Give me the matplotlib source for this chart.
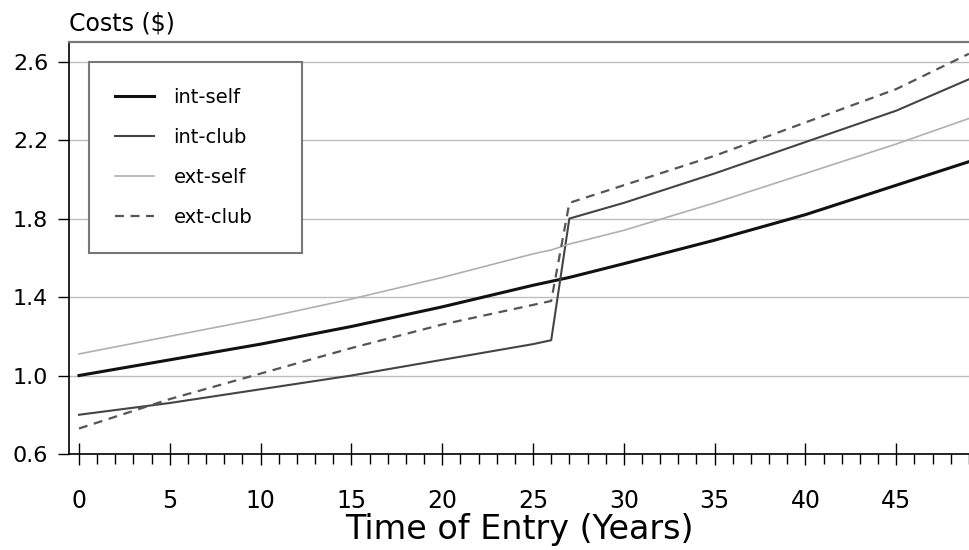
import matplotlib
matplotlib.use('Agg')
import matplotlib.pyplot as plt
from matplotlib.ticker import MultipleLocator

# values
years = [0, 5, 10, 15, 20, 25, 26, 27, 30, 35, 40, 45, 49]
int_self = [1.00, 1.08, 1.16, 1.25, 1.35, 1.46, 1.48, 1.50, 1.57, 1.69, 1.82, 1.97, 2.09]
int_club = [0.80, 0.86, 0.93, 1.00, 1.08, 1.16, 1.18, 1.80, 1.88, 2.03, 2.19, 2.35, 2.51]
ext_self = [1.11, 1.20, 1.29, 1.39, 1.50, 1.62, 1.64, 1.67, 1.74, 1.88, 2.03, 2.18, 2.31]
ext_club = [0.73, 0.88, 1.01, 1.14, 1.26, 1.36, 1.38, 1.88, 1.97, 2.12, 2.29, 2.46, 2.64]

y_ticks = [0.6, 1.0, 1.4, 1.8, 2.2, 2.6]
x_ticks = [0, 5, 10, 15, 20, 25, 30, 35, 40, 45]

plt.rcParams['font.family'] = ['DejaVu Sans']

fig = plt.figure(figsize=(9.7, 5.5), dpi=100)
ax = fig.add_axes([69 / 970, 1 - 454 / 550, 901 / 970, 412 / 550])

for yv in y_ticks[1:]:
    ax.axhline(yv, color='#bdbdbd', lw=1.0, zorder=1)

ax.plot(years, int_self, color='#111111', lw=2.2, label='int-self', zorder=3)
ax.plot(years, int_club, color='#444444', lw=1.5, label='int-club', zorder=3)
ax.plot(years, ext_self, color='#b0b0b0', lw=1.2, label='ext-self', zorder=3)
ax.plot(years, ext_club, color='#555555', lw=1.6, ls=(0, (4, 3)), label='ext-club', zorder=3)

ax.set_xlim(-0.55, 49.06)
ax.set_ylim(0.6, 2.70)
ax.set_yticks(y_ticks)
ax.set_yticklabels(['%.1f' % v for v in y_ticks])
ax.set_xticks(x_ticks)
ax.xaxis.set_minor_locator(MultipleLocator(1))

ax.spines['right'].set_visible(False)
ax.spines['top'].set_color('#777777')
ax.spines['top'].set_linewidth(1.6)
ax.spines['left'].set_linewidth(1.2)
ax.spines['bottom'].set_linewidth(1.2)

ax.tick_params(axis='y', which='major', direction='out', length=8, width=1.0,
               pad=7, labelsize=16)
ax.tick_params(axis='x', which='major', direction='inout', length=16, width=1.0,
               pad=17, labelsize=17)
ax.tick_params(axis='x', which='minor', direction='out', length=7, width=1.0)

ax.set_xlabel('Time of Entry (Years)', fontsize=24, labelpad=0)
fig.text(69 / 970, 1 - 30 / 550, 'Costs ($)', fontsize=17, ha='left', va='baseline')

leg = ax.legend(loc='upper left', bbox_to_anchor=(20 / 901, (454 - 62) / 412, 213 / 901, 0),
                mode='expand', borderaxespad=0, fontsize=14, handlelength=2.0,
                handletextpad=1.0, labelspacing=1.08, borderpad=1.35,
                fancybox=False, framealpha=1, edgecolor='#777777')
leg.get_frame().set_linewidth(1.5)

fig.savefig('out.png', dpi=100)
